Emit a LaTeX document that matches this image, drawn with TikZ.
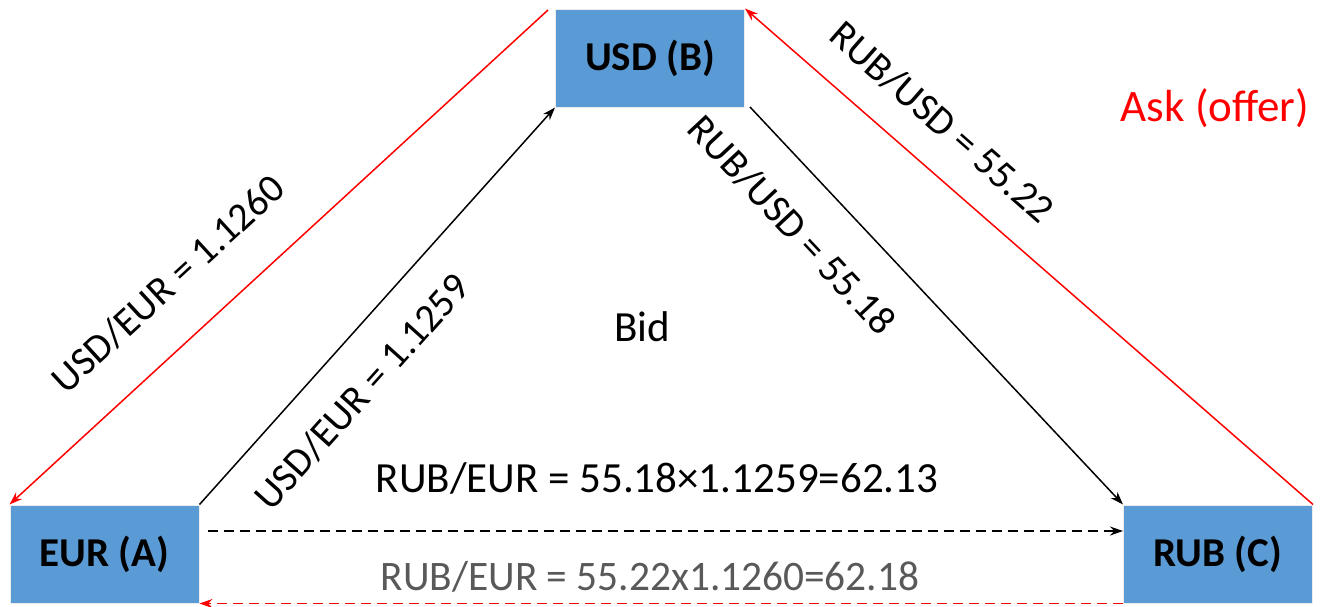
\documentclass[tikz,border=0pt]{standalone}
\usepackage{fontspec}
\setmainfont{Carlito}
\usetikzlibrary{arrows.meta}
\definecolor{boxblue}{HTML}{5B9BD5}
\definecolor{greytext}{HTML}{595959}
\tikzset{
  cur/.style={fill=boxblue, draw=gray!15, line width=1pt, minimum width=189pt, minimum height=98pt, inner sep=0pt, font=\fontsize{41}{48}\selectfont\bfseries},
  lbl/.style={font=\fontsize{40}{48}\selectfont, inner sep=0pt},
  blk/.style={black, line width=1.5pt, -{Stealth[length=13pt,width=9pt]}},
  redl/.style={red, line width=1.5pt, -{Stealth[length=13pt,width=9pt]}},
  dsh/.style={dash pattern=on 10pt off 6pt}
}
\begin{document}
\begin{tikzpicture}[x=1pt,y=1pt]
\useasboundingbox (0,0) rectangle (1320,-606);
\node[cur] (USD) at (650,-58) {USD (B)};
\node[cur] (EUR) at (104.5,-554) {EUR (A)};
\node[cur] (RUB) at (1218,-554) {RUB (C)};
\coordinate (rl) at (548,-10);
\coordinate (bse) at (750,-107);
\coordinate (d1) at (208,-531);
\draw[redl] (rl) -- (EUR.north west);
\draw[redl] (RUB.north east) -- (USD.north east);
\draw[blk] (EUR.north east) -- (USD.south west);
\draw[blk] (bse) -- (RUB.north west);
\draw[blk, dsh] (d1) -- (d1 -| RUB.west);
\draw[redl, dsh] (RUB.south west) -- (EUR.south east);
\node[lbl, rotate=42.6] (l1) at (168,-284) {USD/EUR = 1.1260};
\node[lbl, rotate=48.1] (l2) at (362,-392) {USD/EUR = 1.1259};
\node[lbl, rotate=-46.9] (l3) at (792,-225) {RUB/USD = 55.18};
\node[lbl, rotate=-41.2] (l4) at (942,-122) {RUB/USD = 55.22};
\node[lbl, font=\fontsize{43}{50}\selectfont] (bid) at (642,-327) {Bid};
\node[lbl, font=\fontsize{45}{52}\selectfont, text=red] (ask) at (1215,-108) {Ask (offer)};
\node[lbl, font=\fontsize{43}{50}\selectfont] (f1) at (657,-478) {RUB/EUR = 55.18×1.1259=62.13};
\node[lbl, font=\fontsize{42}{50}\selectfont, text=greytext, xscale=0.985] (f2) at (650,-577) {RUB/EUR = 55.22x1.1260=62.18};
\end{tikzpicture}
\end{document}
